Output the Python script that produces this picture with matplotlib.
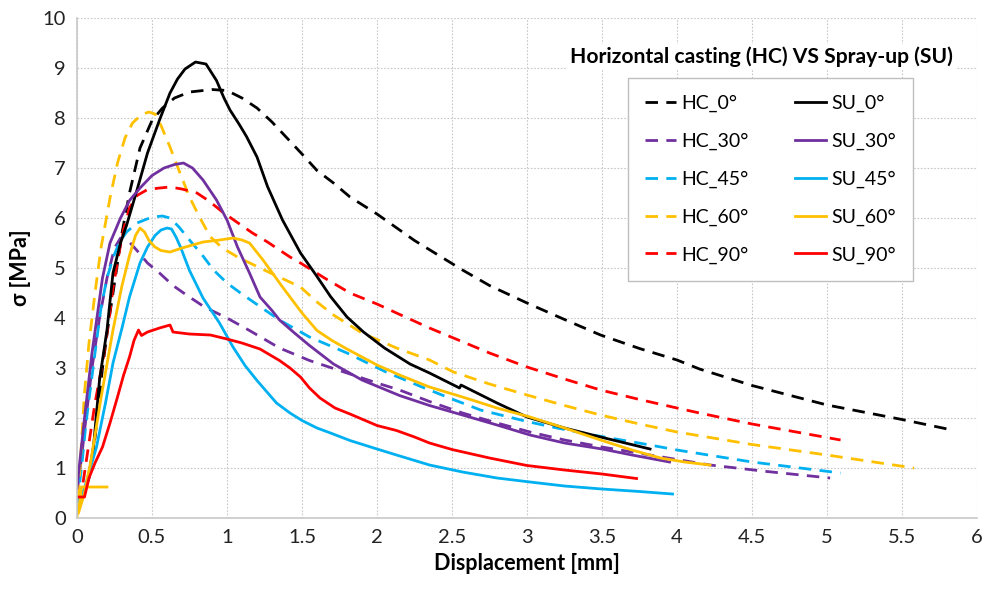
import matplotlib
matplotlib.use("Agg")
import matplotlib.pyplot as plt
import numpy as np

plt.rcParams["font.family"] = ["Lato", "DejaVu Sans"]

# Stress-displacement curves, horizontal casting (HC) vs spray-up (SU)
hc0_x = [0.03, 0.08, 0.12, 0.17, 0.21, 0.25, 0.3, 0.35, 0.42, 0.5, 0.57, 0.65, 0.75, 0.9, 1.0, 1.1, 1.2, 1.3, 1.4, 1.5, 1.6, 1.71, 1.82, 2.0, 2.25, 2.57, 2.75, 3.0, 3.25, 3.49, 3.75, 4.0, 4.15, 4.5, 5.0, 5.5, 5.85]
hc0_y = [0.35, 0.8, 1.6, 3.0, 3.9, 4.7, 5.7, 6.5, 7.4, 7.95, 8.2, 8.4, 8.52, 8.57, 8.55, 8.4, 8.2, 7.92, 7.6, 7.28, 6.95, 6.7, 6.42, 6.08, 5.55, 4.96, 4.65, 4.3, 3.97, 3.66, 3.39, 3.16, 2.98, 2.65, 2.26, 1.97, 1.75]

su0_x = [0.03, 0.07, 0.11, 0.15, 0.2, 0.24, 0.29, 0.33, 0.4, 0.47, 0.55, 0.62, 0.67, 0.72, 0.79, 0.86, 0.93, 0.98, 1.02, 1.08, 1.13, 1.2, 1.27, 1.37, 1.49, 1.6, 1.69, 1.8, 1.91, 2.05, 2.22, 2.35, 2.55, 2.56, 2.8, 3.0, 3.25, 3.49, 3.82]
su0_y = [0.4, 0.7, 1.42, 2.76, 3.76, 4.9, 5.5, 5.85, 6.56, 7.3, 7.96, 8.5, 8.78, 8.98, 9.12, 9.08, 8.75, 8.4, 8.16, 7.88, 7.63, 7.22, 6.63, 5.96, 5.3, 4.83, 4.43, 4.02, 3.72, 3.4, 3.08, 2.9, 2.6, 2.66, 2.3, 2.02, 1.8, 1.62, 1.38]

hc30_x = [0.0, 0.03, 0.06, 0.1, 0.15, 0.2, 0.25, 0.29, 0.34, 0.4, 0.47, 0.55, 0.64, 0.73, 0.85, 1.0, 1.15, 1.35, 1.55, 1.8, 2.0, 2.15, 2.35, 2.57, 2.8, 3.02, 3.25, 3.5, 3.82, 4.22, 4.6, 5.02]
hc30_y = [0.5, 1.2, 2.0, 3.0, 4.0, 4.8, 5.4, 5.6, 5.55, 5.35, 5.1, 4.9, 4.65, 4.46, 4.22, 4.0, 3.75, 3.4, 3.15, 2.9, 2.7, 2.56, 2.33, 2.1, 1.9, 1.72, 1.56, 1.42, 1.26, 1.06, 0.93, 0.8]

su30_x = [0.0, 0.05, 0.1, 0.17, 0.22, 0.29, 0.35, 0.42, 0.5, 0.58, 0.65, 0.71, 0.77, 0.84, 0.93, 1.0, 1.07, 1.15, 1.22, 1.3, 1.35, 1.45, 1.55, 1.71, 1.9, 2.15, 2.35, 2.57, 2.8, 3.02, 3.25, 3.5, 3.7, 3.95]
su30_y = [0.6, 2.0, 3.3, 4.8, 5.5, 6.0, 6.35, 6.6, 6.85, 7.0, 7.07, 7.1, 7.0, 6.76, 6.36, 5.96, 5.42, 4.9, 4.42, 4.15, 3.96, 3.7, 3.45, 3.08, 2.76, 2.45, 2.25, 2.06, 1.86, 1.66, 1.5, 1.38, 1.26, 1.12]

hc45_x = [0.0, 0.03, 0.06, 0.12, 0.16, 0.2, 0.24, 0.28, 0.33, 0.4, 0.5, 0.57, 0.62, 0.68, 0.75, 0.83, 0.91, 1.0, 1.09, 1.2, 1.35, 1.55, 1.8, 2.06, 2.3, 2.5, 2.69, 3.0, 3.2, 3.44, 3.82, 4.0, 4.5, 5.09]
hc45_y = [0.3, 1.0, 1.9, 3.3, 4.2, 4.8, 5.2, 5.5, 5.72, 5.9, 6.02, 6.04, 6.0, 5.82, 5.56, 5.28, 4.96, 4.7, 4.5, 4.27, 3.96, 3.62, 3.3, 2.92, 2.62, 2.38, 2.16, 1.93, 1.8, 1.66, 1.46, 1.36, 1.12, 0.9]

su45_x = [0.0, 0.06, 0.13, 0.19, 0.24, 0.3, 0.35, 0.42, 0.47, 0.52, 0.56, 0.6, 0.63, 0.66, 0.69, 0.75, 0.84, 0.95, 1.04, 1.12, 1.2, 1.33, 1.42, 1.5, 1.6, 1.69, 1.82, 2.0, 2.13, 2.35, 2.57, 2.8, 3.02, 3.25, 3.5, 3.75, 3.97]
su45_y = [0.1, 0.7, 1.42, 2.3, 3.1, 3.8, 4.42, 5.1, 5.42, 5.65, 5.76, 5.8, 5.78, 5.62, 5.42, 4.95, 4.4, 3.9, 3.42, 3.05, 2.75, 2.3, 2.1, 1.95, 1.8, 1.7, 1.55, 1.38, 1.26, 1.06, 0.92, 0.8, 0.72, 0.64, 0.58, 0.53, 0.48]

hc60_x = [0.0, 0.02, 0.05, 0.08, 0.12, 0.16, 0.22, 0.27, 0.32, 0.37, 0.43, 0.48, 0.52, 0.56, 0.62, 0.68, 0.75, 0.82, 0.89, 0.97, 1.07, 1.29, 1.49, 1.6, 1.71, 1.9, 2.13, 2.35, 2.51, 2.75, 3.0, 3.25, 3.49, 3.75, 4.0, 4.5, 5.0, 5.58]
hc60_y = [0.0, 1.0, 2.5, 3.5, 4.5, 5.4, 6.4, 7.1, 7.6, 7.9, 8.07, 8.12, 8.08, 7.85, 7.42, 6.95, 6.42, 6.0, 5.62, 5.4, 5.22, 4.9, 4.62, 4.32, 4.06, 3.7, 3.4, 3.16, 2.92, 2.68, 2.46, 2.25, 2.06, 1.88, 1.72, 1.47, 1.26, 1.0]

su60_x = [0.2, 0.03, 0.01, 0.05, 0.09, 0.16, 0.24, 0.3, 0.35, 0.39, 0.42, 0.45, 0.48, 0.52, 0.56, 0.62, 0.7, 0.84, 0.95, 1.04, 1.1, 1.15, 1.24, 1.37, 1.5, 1.6, 1.7, 1.8, 2.0, 2.15, 2.35, 2.57, 2.8, 3.02, 3.25, 3.5, 3.7, 3.89, 4.05, 4.22]
su60_y = [0.62, 0.62, 0.1, 0.5, 1.1, 2.4, 3.76, 4.65, 5.25, 5.65, 5.8, 5.72, 5.55, 5.42, 5.35, 5.32, 5.4, 5.52, 5.56, 5.6, 5.56, 5.5, 5.16, 4.62, 4.1, 3.75, 3.55, 3.38, 3.06, 2.86, 2.62, 2.42, 2.2, 2.02, 1.8, 1.55, 1.36, 1.2, 1.12, 1.06]

hc90_x = [0.02, 0.05, 0.08, 0.12, 0.17, 0.21, 0.24, 0.28, 0.31, 0.35, 0.4, 0.47, 0.55, 0.62, 0.7, 0.8, 0.88, 0.97, 1.05, 1.17, 1.27, 1.42, 1.49, 1.65, 1.82, 2.0, 2.13, 2.35, 2.51, 2.75, 3.0, 3.25, 3.49, 3.75, 4.0, 4.15, 4.5, 5.09]
hc90_y = [0.3, 0.9, 1.5, 2.3, 3.1, 3.9, 4.6, 5.3, 5.76, 6.2, 6.45, 6.57, 6.6, 6.62, 6.58, 6.5, 6.34, 6.12, 5.95, 5.7, 5.52, 5.22, 5.1, 4.8, 4.5, 4.28, 4.1, 3.8, 3.6, 3.3, 3.02, 2.78, 2.56, 2.37, 2.2, 2.1, 1.88, 1.56]

su90_x = [0.0, 0.05, 0.08, 0.12, 0.17, 0.22, 0.27, 0.31, 0.35, 0.38, 0.41, 0.43, 0.47, 0.55, 0.62, 0.64, 0.75, 0.89, 1.0, 1.1, 1.22, 1.35, 1.42, 1.49, 1.55, 1.62, 1.72, 1.82, 2.0, 2.13, 2.25, 2.35, 2.5, 2.75, 3.0, 3.25, 3.5, 3.73]
su90_y = [0.42, 0.42, 0.8, 1.1, 1.42, 1.9, 2.42, 2.85, 3.22, 3.55, 3.76, 3.65, 3.72, 3.8, 3.86, 3.72, 3.68, 3.66, 3.58, 3.5, 3.38, 3.15, 3.0, 2.82, 2.6, 2.4, 2.2, 2.08, 1.85, 1.75, 1.62, 1.5, 1.37, 1.2, 1.05, 0.96, 0.88, 0.79]

angles = ["0°", "30°", "45°", "60°", "90°"]
colors = ["#000000", "#7030A0", "#00B0F0", "#FFC000", "#FF0000"]
hc_data = [(hc0_x, hc0_y), (hc30_x, hc30_y), (hc45_x, hc45_y), (hc60_x, hc60_y), (hc90_x, hc90_y)]
su_data = [(su0_x, su0_y), (su30_x, su30_y), (su45_x, su45_y), (su60_x, su60_y), (su90_x, su90_y)]

fig = plt.figure(figsize=(9.82, 5.91), dpi=100)
ax = fig.add_axes([0.0784, 0.1235, 0.9166, 0.846])

for (x, y), ang, col in zip(hc_data, angles, colors):
    ax.plot(x, y, color=col, lw=2.0, dashes=(4.5, 3), solid_joinstyle="round",
            dash_joinstyle="round", label=f"HC_{ang}")
for (x, y), ang, col in zip(su_data, angles, colors):
    ax.plot(x, y, color=col, lw=2.0, solid_joinstyle="round", label=f"SU_{ang}")

ax.set_xlim(0, 6)
ax.set_ylim(0, 10)
ax.set_xticks(np.arange(0, 6.01, 0.5))
ax.set_xticklabels(["0", "0.5", "1", "1.5", "2", "2.5", "3", "3.5", "4", "4.5", "5", "5.5", "6"])
ax.set_yticks(np.arange(0, 11, 1))
ax.tick_params(length=0, labelsize=14.5, pad=8, colors="#222222")
ax.grid(True, color="#c8c8c8", ls=(0, (1.5, 1.5)), lw=0.8)
ax.set_axisbelow(True)
for side in ["top", "right"]:
    ax.spines[side].set_visible(False)
for side in ["left", "bottom"]:
    ax.spines[side].set_color("#c8c8c8")
    ax.spines[side].set_linewidth(1.2)

ax.set_xlabel("Displacement [mm]", fontsize=15.5, fontweight="bold", labelpad=5)
ax.set_ylabel("σ [MPa]", fontsize=15.5, fontweight="bold", labelpad=8)

ax.text(0.973, 0.922, "Horizontal casting (HC) VS Spray-up (SU)", transform=ax.transAxes,
        ha="right", va="center", fontsize=15.2, fontweight="bold",
        bbox=dict(facecolor="white", edgecolor="none", pad=2))

leg = ax.legend(ncol=2, loc="upper left", bbox_to_anchor=(0.612, 0.88), fontsize=14,
                frameon=True, fancybox=False, framealpha=1, edgecolor="#bfbfbf",
                handlelength=1.6, handletextpad=0.25, columnspacing=2.4,
                labelspacing=1.05, borderpad=0.88, borderaxespad=0)
leg.get_frame().set_linewidth(1.0)

fig.savefig("out.png", dpi=100)
